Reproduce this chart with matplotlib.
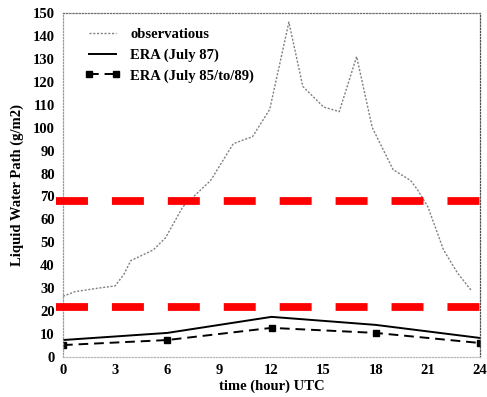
import matplotlib
matplotlib.use("Agg")
import matplotlib.pyplot as plt

# Observations (hour, value)
obs_hours = [0.0, 0.7, 2.0, 3.0, 3.5, 3.9, 5.2, 5.9, 6.9, 8.5, 9.8, 10.4, 10.9, 11.9, 13.0,
             13.8, 15.0, 15.9, 16.9, 17.8, 19.0, 20.0, 20.4, 21.0, 21.9, 22.7, 23.5]
obs_values = [26.5, 28.5, 30.0, 31.0, 36.0, 42.0, 46.7, 52.0, 65.5, 77.0, 93.0, 94.7, 96.0, 108.0, 146.0,
              118.0, 109.0, 107.0, 131.0, 100.0, 81.7, 77.0, 73.0, 65.5, 46.7, 36.7, 29.0]

era_hours = [0, 6, 12, 18, 24]
era87_values = [7.4, 10.5, 17.5, 14.0, 8.3]
era8589_values = [5.2, 7.4, 12.7, 10.5, 6.1]

ref_levels = [68, 22]

xticks = [0, 3, 6, 9, 12, 15, 18, 21, 24]
yticks = list(range(0, 151, 10))

labels = ["observatious", "ERA (July 87)", "ERA (July 85/to/89)"]

plt.rcParams['font.family'] = ['Liberation Serif', 'DejaVu Serif']
plt.rcParams['font.weight'] = 'bold'

fig = plt.figure(figsize=(4.87, 3.97), dpi=100)
ax = fig.add_axes([63/487, 1-357/397, (480-63)/487, (357-13)/397])

ax.plot(obs_hours, obs_values, color='#808080', lw=1.0, ls=(0, (1.5, 1.2)), label=labels[0])
ax.plot(era_hours, era87_values, color='black', lw=1.4, ls='-', label=labels[1])
ax.plot(era_hours, era8589_values, color='black', lw=1.4, ls=(0, (5, 3)),
        marker='s', ms=4.5, label=labels[2])

lw_red = 5.6
for lv in ref_levels:
    ax.plot([-0.4, 24], [lv, lv], color='#ff0000', lw=lw_red, ls=(0, (4.11, 3.08)), clip_on=False,
            solid_capstyle='butt', dash_capstyle='butt', zorder=5)

ax.set_xlim(0, 24)
ax.set_ylim(0, 150)
ax.set_xticks(xticks)
ax.set_yticks(yticks)
ax.tick_params(axis='both', length=0, labelsize=10.5)
ax.tick_params(axis='x', pad=5)
ax.tick_params(axis='y', pad=6)
for lab in ax.get_xticklabels() + ax.get_yticklabels():
    lab.set_fontweight('bold')

for side, col in [('left', '#9a9a9a'), ('bottom', '#b8b8b8'), ('top', '#707070'), ('right', '#505050')]:
    ax.spines[side].set_color(col)
    ax.spines[side].set_linestyle((0, (1, 1.5)))
    ax.spines[side].set_linewidth(0.9)

ax.set_xlabel("time (hour) UTC", fontsize=10.5, fontweight='bold', labelpad=2)
ax.set_ylabel("Liquid Water Path (g/m2)", fontsize=10.5, fontweight='bold', labelpad=6)

leg = ax.legend(loc='upper left', bbox_to_anchor=(22/417, 1-15/344), frameon=False,
                prop={'family': 'Liberation Serif', 'weight': 'bold', 'size': 10.5},
                handlelength=2.4, handletextpad=0.7, labelspacing=0.5, borderaxespad=0,
                borderpad=0, numpoints=2, markerscale=0.9)

fig.savefig("out.png", dpi=100)
